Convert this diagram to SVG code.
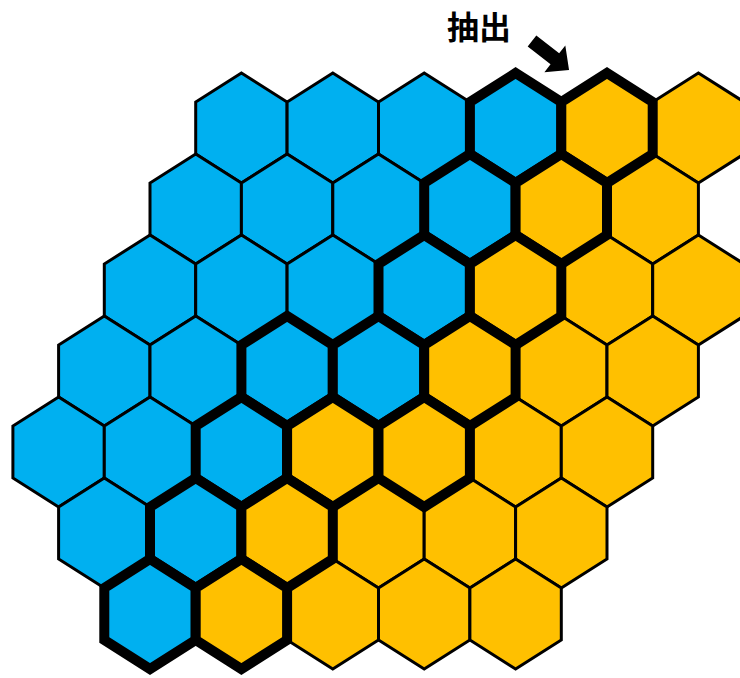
<svg xmlns="http://www.w3.org/2000/svg" xmlns:xlink="http://www.w3.org/1999/xlink" width="740" height="678" viewBox="0 0 740 678">
  <style>
    .b { fill: #00B0F0; stroke: #000; stroke-width: 3; stroke-linejoin: miter; }
    .o { fill: #FFC000; stroke: #000; stroke-width: 3; stroke-linejoin: miter; }
    .sel { stroke-width: 10; }
    .label { font-family: "Noto Sans CJK JP", "Noto Sans CJK SC", sans-serif; font-size: 32px; font-weight: bold; fill: #000; }
  </style>
  <defs>
    <polygon id="hex" points="0,-55 45.7,-26 45.7,26 0,55 -45.7,26 -45.7,-26"/>
  </defs>
  <rect width="740" height="678" fill="#fff"/>

  <g id="cells">
    <!-- row 1 -->
    <g id="r1c4"><use href="#hex" x="241.4" y="128" class="b"/></g>
    <g id="r1c6"><use href="#hex" x="332.8" y="128" class="b"/></g>
    <g id="r1c8"><use href="#hex" x="424.2" y="128" class="b"/></g>
    <g id="r1c14"><use href="#hex" x="698.4" y="128" class="o"/></g>
    <!-- row 2 -->
    <g id="r2c3"><use href="#hex" x="195.7" y="209" class="b"/></g>
    <g id="r2c5"><use href="#hex" x="287.1" y="209" class="b"/></g>
    <g id="r2c7"><use href="#hex" x="378.5" y="209" class="b"/></g>
    <g id="r2c13"><use href="#hex" x="652.7" y="209" class="o"/></g>
    <!-- row 3 -->
    <g id="r3c2"><use href="#hex" x="150" y="290" class="b"/></g>
    <g id="r3c4"><use href="#hex" x="241.4" y="290" class="b"/></g>
    <g id="r3c6"><use href="#hex" x="332.8" y="290" class="b"/></g>
    <g id="r3c12"><use href="#hex" x="607" y="290" class="o"/></g>
    <g id="r3c14"><use href="#hex" x="698.4" y="290" class="o"/></g>
    <!-- row 4 -->
    <g id="r4c1"><use href="#hex" x="104.3" y="371" class="b"/></g>
    <g id="r4c3"><use href="#hex" x="195.7" y="371" class="b"/></g>
    <g id="r4c11"><use href="#hex" x="561.3" y="371" class="o"/></g>
    <g id="r4c13"><use href="#hex" x="652.7" y="371" class="o"/></g>
    <!-- row 5 -->
    <g id="r5c0"><use href="#hex" x="58.6" y="452" class="b"/></g>
    <g id="r5c2"><use href="#hex" x="150" y="452" class="b"/></g>
    <g id="r5c10"><use href="#hex" x="515.6" y="452" class="o"/></g>
    <g id="r5c12"><use href="#hex" x="607" y="452" class="o"/></g>
    <!-- row 6 -->
    <g id="r6c1"><use href="#hex" x="104.3" y="533" class="b"/></g>
    <g id="r6c7"><use href="#hex" x="378.5" y="533" class="o"/></g>
    <g id="r6c9"><use href="#hex" x="469.9" y="533" class="o"/></g>
    <g id="r6c11"><use href="#hex" x="561.3" y="533" class="o"/></g>
    <!-- row 7 -->
    <g id="r7c6"><use href="#hex" x="332.8" y="614" class="o"/></g>
    <g id="r7c8"><use href="#hex" x="424.2" y="614" class="o"/></g>
    <g id="r7c10"><use href="#hex" x="515.6" y="614" class="o"/></g>
  </g>

  <g id="extracted-cells">
    <g id="r1c10"><use href="#hex" x="515.6" y="128" class="b sel"/></g>
    <g id="r1c12"><use href="#hex" x="607" y="128" class="o sel"/></g>
    <g id="r2c9"><use href="#hex" x="469.9" y="209" class="b sel"/></g>
    <g id="r2c11"><use href="#hex" x="561.3" y="209" class="o sel"/></g>
    <g id="r3c8"><use href="#hex" x="424.2" y="290" class="b sel"/></g>
    <g id="r3c10"><use href="#hex" x="515.6" y="290" class="o sel"/></g>
    <g id="r4c5"><use href="#hex" x="287.1" y="371" class="b sel"/></g>
    <g id="r4c7"><use href="#hex" x="378.5" y="371" class="b sel"/></g>
    <g id="r4c9"><use href="#hex" x="469.9" y="371" class="o sel"/></g>
    <g id="r5c4"><use href="#hex" x="241.4" y="452" class="b sel"/></g>
    <g id="r5c6"><use href="#hex" x="332.8" y="452" class="o sel"/></g>
    <g id="r5c8"><use href="#hex" x="424.2" y="452" class="o sel"/></g>
    <g id="r6c3"><use href="#hex" x="195.7" y="533" class="b sel"/></g>
    <g id="r6c5"><use href="#hex" x="287.1" y="533" class="o sel"/></g>
    <g id="r7c2"><use href="#hex" x="150" y="614" class="b sel"/></g>
    <g id="r7c4"><use href="#hex" x="241.4" y="614" class="o sel"/></g>
  </g>

  <g id="label">
    <text class="label" x="447" y="39">抽出</text>
  </g>
  <g id="connectors">
    <polygon points="0,-7 29,-7 29,-17 47,0 29,17 29,7 0,7" fill="#000" transform="translate(532,41) rotate(38)"/>
  </g>
</svg>
